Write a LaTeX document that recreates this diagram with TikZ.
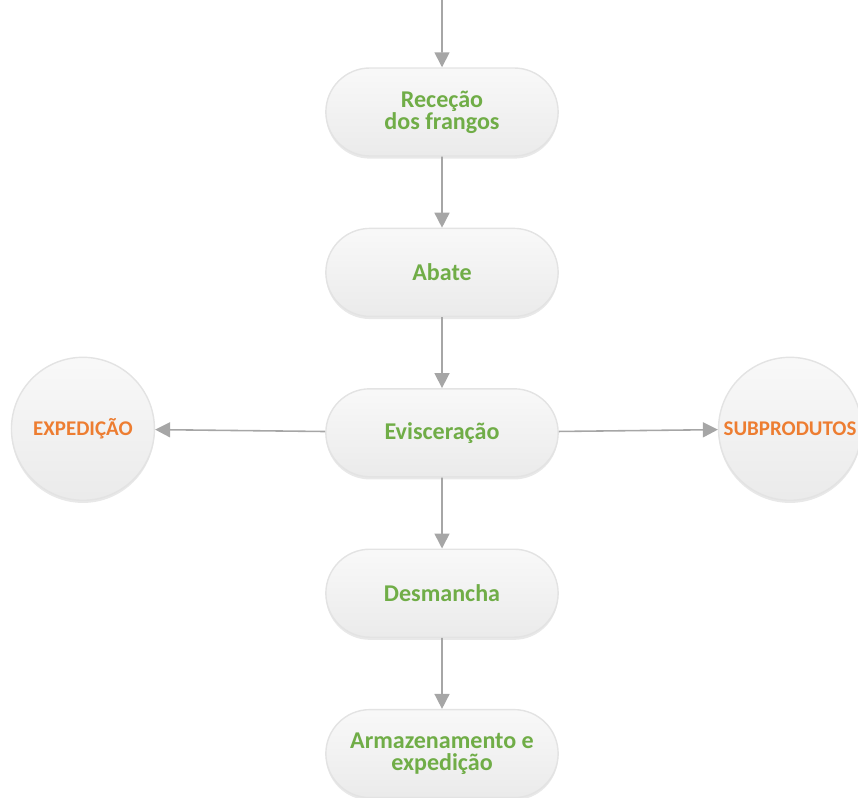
\documentclass[tikz,border=0pt]{standalone}
\usepackage{fontspec}
\setmainfont{Carlito}
\usepackage{xcolor}
\usepackage{tikz}
\usetikzlibrary{arrows.meta,positioning,shapes.misc,shadows}
\definecolor{stepgreen}{HTML}{70AD47}
\definecolor{sideorange}{HTML}{ED7D31}
\definecolor{linegrey}{HTML}{A6A6A6}
\tikzset{
  stage/.style={
    rounded rectangle, draw=gray!22, thick, top color=gray!5, bottom color=gray!16,
    drop shadow={opacity=0.18, shadow xshift=0pt, shadow yshift=-1.5pt},
    minimum width=4.88cm, minimum height=1.76cm, align=center,
    font=\fontsize{13.7}{12.5}\selectfont\bfseries, text=stepgreen
  },
  outlet/.style={
    circle, draw=gray!22, thick, top color=gray!5, bottom color=gray!16,
    drop shadow={opacity=0.18, shadow xshift=0pt, shadow yshift=-1.5pt},
    minimum size=2.86cm, inner sep=0pt, align=center,
    font=\fontsize{11.9}{13}\selectfont\bfseries, text=sideorange
  },
  flow/.style={-{Triangle[width=0.3cm,length=0.3cm]}, line width=0.9pt, linegrey},
}
\begin{document}
\begin{tikzpicture}[node distance=1.42cm and 3.25cm]
    \useasboundingbox (0,0) rectangle (17.16,-15.96);
    \node[stage] (rec) at (8.84,-2.24) {Receção\\dos frangos};
    \node[stage, below=of rec] (abate) {Abate};
    \node[stage, below=of abate] (evisc) {Evisceração};
    \node[stage, below=of evisc] (desm) {Desmancha};
    \node[stage, below=of desm] (armaz) {Armazenamento e\\expedição};
    \node[outlet, left=3.4cm of evisc, yshift=0.08cm] (exped) {EXPEDIÇÃO};
    \node[outlet, right=3.18cm of evisc, yshift=0.08cm] (subp) {SUBPRODUTOS};
    \coordinate[above=1.36cm of rec] (entry);
    \draw[flow] (entry) -- (rec);
    \draw[flow] (rec) -- (abate);
    \draw[flow] (abate) -- (evisc);
    \draw[flow] (evisc) -- (desm);
    \draw[flow] (desm) -- (armaz);
    \draw[flow] (evisc) -- (exped);
    \draw[flow] (evisc) -- (subp);
  \end{tikzpicture}
\end{document}
